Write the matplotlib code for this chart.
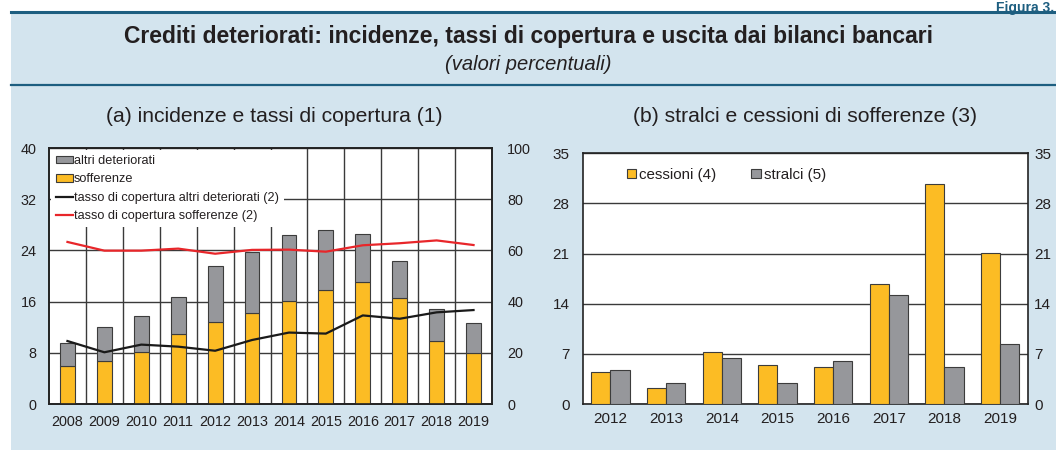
import matplotlib.pyplot as plt
import numpy as np
from matplotlib.patches import Patch
from matplotlib.lines import Line2D
from matplotlib.transforms import ScaledTranslation

plt.rcParams['font.family'] = ['Liberation Sans', 'DejaVu Sans']

# panel (a): incidence of impaired loans and coverage ratios
years_a = ['2008', '2009', '2010', '2011', '2012', '2013',
           '2014', '2015', '2016', '2017', '2018', '2019']
sofferenze = [6.0, 6.7, 8.2, 10.9, 12.8, 14.2, 16.1, 17.8, 19.0, 16.5, 9.8, 7.9]
totale_deteriorati = [9.6, 12.0, 13.7, 16.7, 21.5, 23.7, 26.4, 27.2, 26.6, 22.4, 14.9, 12.7]
altri_deteriorati = [t - s for t, s in zip(totale_deteriorati, sofferenze)]
cop_altri = [24.6, 20.2, 23.2, 22.4, 20.8, 25.0, 27.9, 27.5, 34.6, 33.3, 35.8, 36.7]
cop_sofferenze = [63.3, 59.9, 59.9, 60.7, 58.7, 60.2, 60.3, 59.5, 62.0, 62.8, 63.9, 62.1]

# panel (b): write-offs and sales of bad loans
years_b = ['2012', '2013', '2014', '2015', '2016', '2017', '2018', '2019']
cessioni = [4.4, 2.3, 7.2, 5.5, 5.2, 16.7, 30.7, 21.1]
stralci = [4.7, 2.9, 6.4, 2.9, 6.0, 15.2, 5.1, 8.4]

BG = '#d3e4ee'
TEAL = '#1d5e80'
ORANGE = '#fcbc24'
GREY = '#96979b'
EDGE = '#3c3c3c'
TXT = '#231f20'

fig = plt.figure(figsize=(10.56, 4.5), dpi=100)
fig.patch.set_facecolor('white')

# blue background box and title rules
fig.add_artist(plt.Rectangle((11 / 1056, 0), 1 - 11 / 1056, 1 - 12 / 450,
                             transform=fig.transFigure, facecolor=BG,
                             edgecolor='none', zorder=-10))
fig.add_artist(Line2D([11 / 1056, 1], [1 - 12 / 450] * 2, transform=fig.transFigure,
                      color=TEAL, lw=2.2))
fig.add_artist(Line2D([11 / 1056, 1], [1 - 85 / 450] * 2, transform=fig.transFigure,
                      color=TEAL, lw=1.6))
fig.text(1054 / 1056, 1 - 1 / 450, 'Figura 3.', color=TEAL, fontsize=10,
         fontweight='bold', ha='right', va='top')
fig.text(0.5, 1 - 36 / 450,
         'Crediti deteriorati: incidenze, tassi di copertura e uscita dai bilanci bancari',
         ha='center', va='center', fontsize=16.5, fontweight='bold', color=TXT)
fig.text(0.5, 1 - 64 / 450, '(valori percentuali)', ha='center', va='center',
         fontsize=14.5, style='italic', color=TXT)
fig.text(274 / 1056, 1 - 117 / 450, '(a) incidenze e tassi di copertura (1)',
         ha='center', va='center', fontsize=15.2, color=TXT)
fig.text(805 / 1056, 1 - 117 / 450, '(b) stralci e cessioni di sofferenze (3)',
         ha='center', va='center', fontsize=15.2, color=TXT)

# ---- panel (a): stacked bars + coverage ratios on right axis
ax = fig.add_axes([49 / 1056, 46 / 450, 443 / 1056, 256 / 450])
x = np.arange(len(years_a))
ax.bar(x, sofferenze, width=0.4, color=ORANGE, edgecolor=EDGE, linewidth=0.8, zorder=3)
ax.bar(x, altri_deteriorati, width=0.4, bottom=sofferenze, color=GREY,
       edgecolor=EDGE, linewidth=0.8, zorder=3)
ax.set_xlim(-0.5, len(years_a) - 0.5)
ax.set_ylim(0, 40)
ax.set_yticks(range(0, 41, 8))
ax.set_xticks(x)
ax.set_xticklabels(years_a)
ax.set_xticks(np.arange(0.5, len(years_a) - 1, 1), minor=True)
ax.grid(axis='y', which='major', color='#3a3a3a', lw=1.0, zorder=0)
ax.grid(axis='x', which='minor', color='#3a3a3a', lw=1.0, zorder=0)
ax.set_axisbelow(True)
ax.tick_params(axis='both', which='both', length=0, labelsize=10.4, colors=TXT)
ax.tick_params(axis='y', pad=9)
ax.tick_params(axis='x', pad=8)
for sp in ax.spines.values():
    sp.set_linewidth(1.2)
    sp.set_color('#222222')

ax2 = ax.twinx()
ax2.plot(x, cop_altri, color='#1a1a1a', lw=1.6, zorder=4)
ax2.plot(x, cop_sofferenze, color='#e8262a', lw=1.6, zorder=4)
ax2.set_ylim(0, 100)
ax2.set_yticks(range(0, 101, 20))
ax2.tick_params(axis='y', length=0, labelsize=10.4, colors=TXT, pad=11)
for sp in ax2.spines.values():
    sp.set_linewidth(1.2)
    sp.set_color('#222222')

handles_a = [
    Patch(facecolor=GREY, edgecolor=EDGE, linewidth=0.8, label='altri deteriorati'),
    Patch(facecolor=ORANGE, edgecolor=EDGE, linewidth=0.8, label='sofferenze'),
    Line2D([], [], color='#1a1a1a', lw=1.6, label='tasso di copertura altri deteriorati (2)'),
    Line2D([], [], color='#e8262a', lw=1.6, label='tasso di copertura sofferenze (2)'),
]
leg = ax2.legend(handles=handles_a, loc='upper left', fontsize=9.2, frameon=True,
                 fancybox=False, facecolor='white', edgecolor='none', framealpha=1,
                 borderaxespad=0.15, borderpad=0.4, handlelength=1.3, handleheight=0.5,
                 handletextpad=0.1, labelspacing=0.5)
for t in leg.get_texts():
    t.set_color(TXT)

# ---- panel (b): grouped bars, same scale on both sides
bx = fig.add_axes([582.6 / 1056, 46 / 450, 445.4 / 1056, 250.7 / 450])
xb = np.arange(len(years_b))
w = 0.345
bx.bar(xb - w / 2, cessioni, width=w, color=ORANGE, edgecolor=EDGE, linewidth=0.8,
       zorder=3, label='cessioni (4)')
bx.bar(xb + w / 2, stralci, width=w, color=GREY, edgecolor=EDGE, linewidth=0.8,
       zorder=3, label='stralci (5)')
bx.set_xlim(-0.5, len(years_b) - 0.5)
bx.set_ylim(0, 35)
bx.set_yticks(range(0, 36, 7))
bx.set_xticks(xb)
bx.set_xticklabels(years_b)
bx.grid(axis='y', color='#3a3a3a', lw=1.0, zorder=0)
bx.set_axisbelow(True)
bx.tick_params(axis='both', length=0, labelsize=11, colors=TXT)
bx.tick_params(axis='y', left=False, right=False, labelright=True, pad=9.5)
bx.tick_params(axis='x', pad=6)
for sp in bx.spines.values():
    sp.set_linewidth(1.2)
    sp.set_color('#222222')
bleg = bx.legend(loc='upper left', bbox_to_anchor=(0.068, 0.997), ncol=2, frameon=False,
                 fontsize=10.9, handlelength=0.6, handleheight=0.6, handletextpad=0.25,
                 columnspacing=2.3)
for t in bleg.get_texts():
    t.set_color(TXT)

fig.canvas.draw()
# pull the right-hand labels of panel (b) in a little so they fit in the figure
shift = ScaledTranslation(-5 / 72, 0, fig.dpi_scale_trans)
for t in bx.yaxis.get_major_ticks():
    t.label2.set_transform(t.label2.get_transform() + shift)

fig.savefig('out.png', dpi=100, facecolor=fig.get_facecolor())
